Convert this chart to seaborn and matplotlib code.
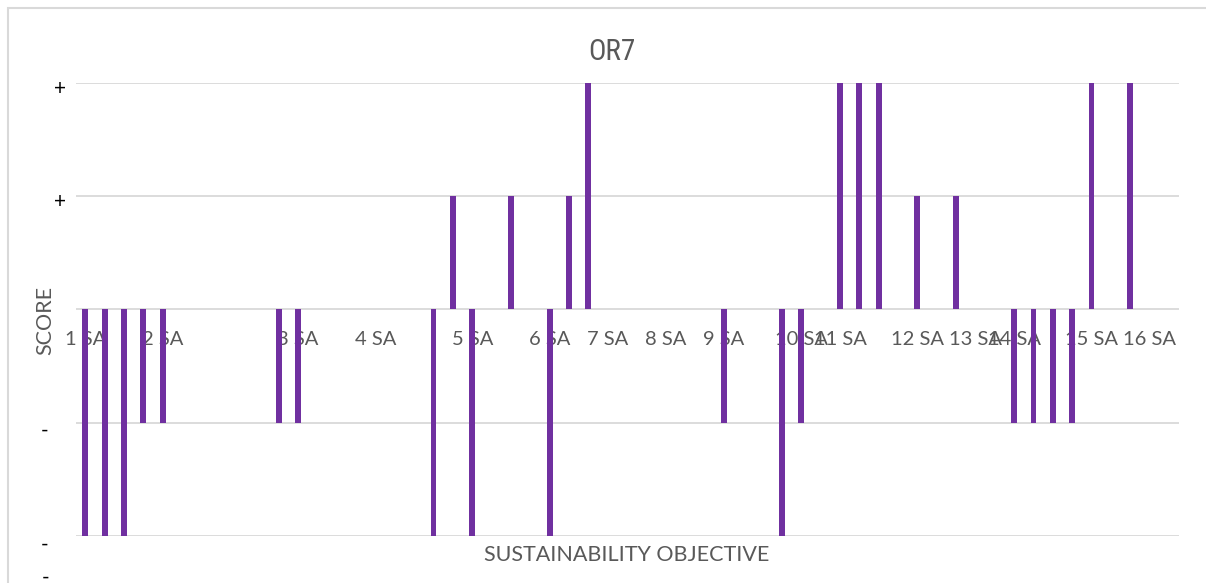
import matplotlib
matplotlib.use('Agg')
import matplotlib.pyplot as plt
import matplotlib.transforms as mtransforms
from matplotlib import font_manager
from matplotlib.patches import Rectangle
import seaborn as sns
import pandas as pd

# Scores per slot along the sustainability objective axis (0 = no bar)
scores = [-2, -2, -2, -1, -1, 0, 0, 0, 0, 0,
          -1, -1, 0, 0, 0, 0, 0, 0, -2, 1,
          -2, 0, 1, 0, -2, 1, 2, 0, 0, 0,
          0, 0, 0, -1, 0, 0, -2, -1, 0, 2,
          2, 2, 0, 1, 0, 1, 0, 0, -1, -1,
          -1, -1, 2, 0, 2, 0, 0]

# Category labels that are shown, and the slot they sit on
label_slots = [0, 4, 11, 15, 20, 24, 27, 30, 33, 37, 39, 43, 46, 48, 52, 55]
label_names = ['1 SA', '2 SA', '3 SA', '4 SA', '5 SA', '6 SA', '7 SA', '8 SA',
               '9 SA', '10 SA', '11 SA', '12 SA', '13 SA', '14 SA', '15 SA', '16 SA']

y_ticks = [2, 1, -1, -2]
y_labels = ['+', '+', '-', '-']

title = 'OR7'
x_title = 'SUSTAINABILITY OBJECTIVE'
y_title = 'SCORE'

purple = '#7030A0'
grey_text = '#595959'
grid_col = '#d9d9d9'

sns.set_style('white')
plt.rcParams['font.family'] = ['Lato', 'DejaVu Sans']

# narrow font for the title if one is around
title_font, title_size = 'Lato', 19
for fam in ['Liberation Sans Narrow', 'DejaVu Sans Condensed', 'Roboto Condensed']:
    try:
        font_manager.findfont(font_manager.FontProperties(family=fam),
                              fallback_to_default=False)
        title_font, title_size = fam, 21
        break
    except ValueError:
        pass

df = pd.DataFrame({'slot': list(range(len(scores))), 'score': scores})

W, H = 1206, 583
fig = plt.figure(figsize=(W / 100, H / 100), dpi=100)
ax = fig.add_axes([75.6 / W, 1 - 536 / H, 1103 / W, (536 - 82.5) / H])

sns.barplot(data=df, x='slot', y='score', color=purple, width=0.3,
            saturation=1, linewidth=0, ax=ax, zorder=3)

ax.set_ylim(-2, 2)
ax.set_xlim(-0.5, len(scores) - 0.5)

# gridlines
for yv in [2, 1, 0, -1, -2]:
    ax.axhline(yv, color=grid_col, lw=1.3, zorder=1)

for s in ax.spines.values():
    s.set_visible(False)

# category axis crosses at zero
ax.spines['bottom'].set_position(('data', 0))
ax.set_xticks(label_slots)
ax.set_xticklabels(label_names)
ax.tick_params(axis='x', length=0, pad=16, labelsize=14.5, labelcolor=grey_text)

ax.set_yticks(y_ticks)
ax.set_yticklabels(y_labels)
ax.tick_params(axis='y', length=0, pad=7, labelsize=15, labelcolor='black')
for lab, txt in zip(ax.get_yticklabels(), y_labels):
    dx, dy = (0, -4) if txt == '+' else (-18, -6.5)
    lab.set_transform(lab.get_transform() +
                      mtransforms.ScaledTranslation(dx / 100, dy / 100, fig.dpi_scale_trans))

ax.set_xlabel(x_title, fontsize=15.5, color=grey_text)
ax.xaxis.set_label_coords(0.5, -0.042)
ax.xaxis.label.set_va('center')
ax.set_ylabel(y_title, fontsize=15.5, color=grey_text)
ax.yaxis.set_label_coords(-0.0277, 0.476)
ax.yaxis.label.set_va('center')

fig.text(612 / W, 1 - 52 / H, title, ha='center', va='center', fontsize=title_size,
         color=grey_text, family=[title_font, 'DejaVu Sans'])

# stray axis label below the plot area
fig.text(46 / W, 1 - 578 / H, '-', ha='center', va='center', fontsize=15, color='black')

# chart area border
fig.add_artist(Rectangle((7.5 / W, -0.1), 1.2, (H - 8) / H + 0.1,
                         transform=fig.transFigure, fill=False,
                         edgecolor=grid_col, lw=1.5))

fig.savefig('out.png', dpi=100)
